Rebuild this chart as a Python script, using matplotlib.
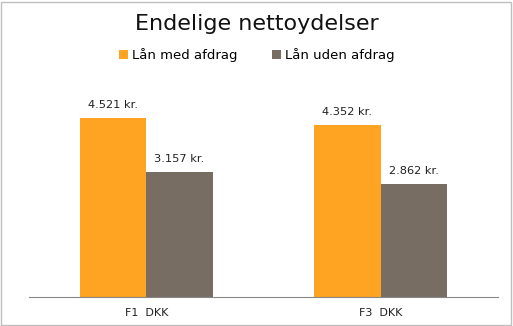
import numpy as np
import matplotlib.pyplot as plt
from matplotlib.patches import Rectangle

categories = ["F1  DKK", "F3  DKK"]
series_names = ["Lån med afdrag", "Lån uden afdrag"]
med_afdrag = [4521, 4352]
uden_afdrag = [3157, 2862]
value_labels_med = ["4.521 kr.", "4.352 kr."]
value_labels_uden = ["3.157 kr.", "2.862 kr."]

orange = "#FFA322"
grey = "#786D62"

fig = plt.figure(figsize=(5.13, 3.26), dpi=100)
ax = fig.add_axes([29 / 513, 29 / 326, 469 / 513, 198 / 326])

x = np.arange(len(categories))
w = 0.284
b1 = ax.bar(x - w / 2, med_afdrag, w, color=orange, label=series_names[0])
b2 = ax.bar(x + w / 2, uden_afdrag, w, color=grey, label=series_names[1])

for bars, labels in ((b1, value_labels_med), (b2, value_labels_uden)):
    for bar, lab in zip(bars, labels):
        ax.annotate(lab, (bar.get_x() + bar.get_width() / 2, bar.get_height()),
                    xytext=(0, 5.5), textcoords="offset points",
                    ha="center", va="bottom", fontsize=8.2, family="DejaVu Sans",
                    color="#222222")

ax.set_xlim(-0.5, 1.5)
ax.set_ylim(0, 5000)
ax.set_xticks(x)
ax.set_xticklabels(categories, fontsize=8, color="#222222")
ax.tick_params(axis="x", length=0, pad=8)
ax.set_yticks([])
for side in ["top", "left", "right"]:
    ax.spines[side].set_visible(False)
ax.spines["bottom"].set_color("#888888")

fig.text(0.5, 0.925, "Endelige nettoydelser", ha="center", va="center",
         fontsize=16, color="#111111")
fig.legend(loc="center", bbox_to_anchor=(0.5, 0.83), ncol=2, frameon=False,
           fontsize=9.5, handlelength=0.7, handleheight=0.7, handletextpad=0.3,
           columnspacing=2.6)

# thin frame round the chart
fig.patches.append(Rectangle((0.002, 0.003), 0.994, 0.992, transform=fig.transFigure,
                             fill=False, edgecolor="#BFBFBF", linewidth=1))

fig.savefig("out.png", dpi=100)
